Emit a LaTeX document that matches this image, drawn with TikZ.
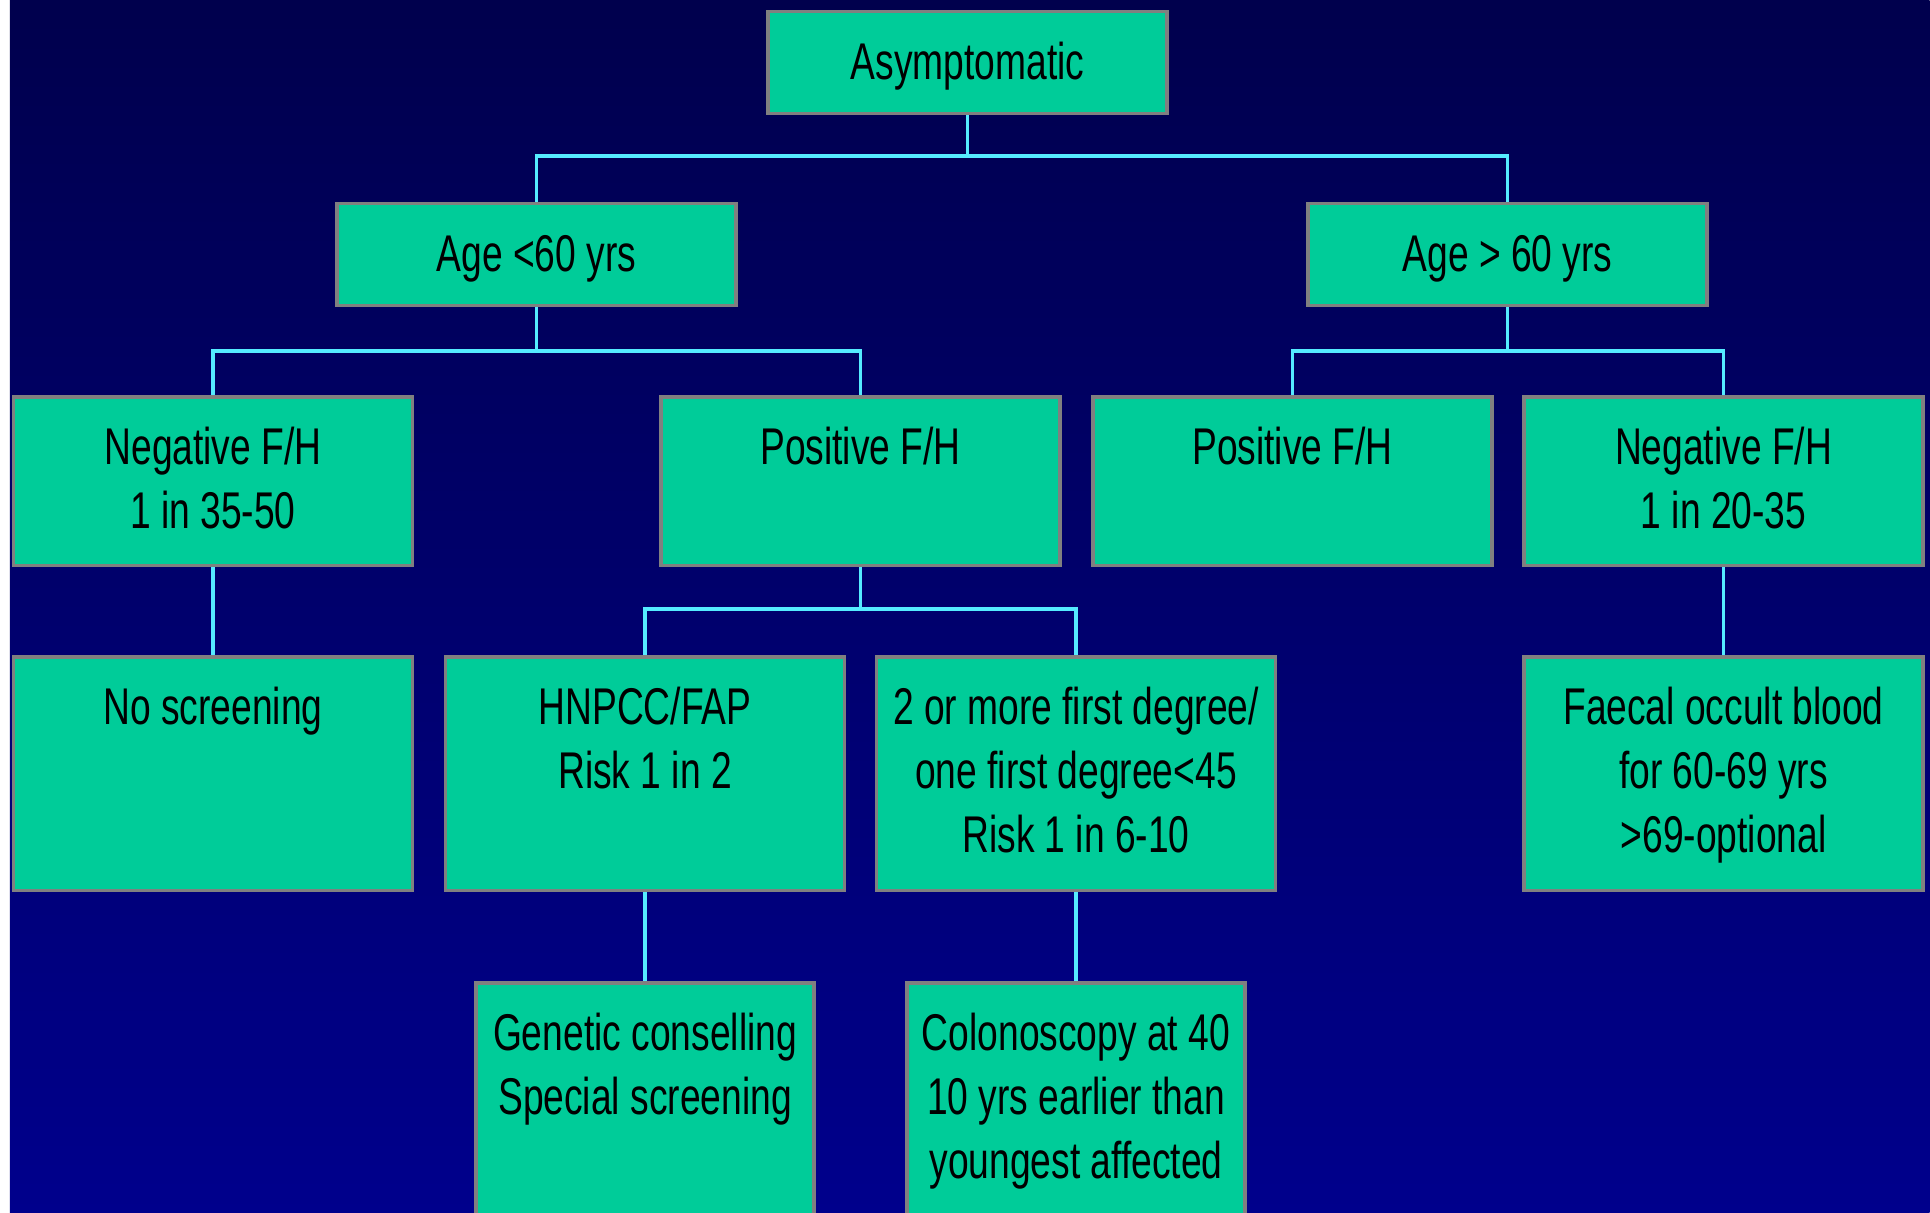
\documentclass[tikz,border=0pt]{standalone}
\usepackage{fontspec}
\setmainfont{Liberation Sans}[FakeStretch=0.72]

\definecolor{boxgreen}{RGB}{0,204,153}
\definecolor{boxedge}{RGB}{128,128,128}
\definecolor{linkcyan}{RGB}{85,235,255}
\definecolor{navytop}{RGB}{0,0,77}
\definecolor{navybottom}{RGB}{0,0,140}

% lines of a card, first baseline on top
\newcommand{\cardlines}[1]{\begin{tabular}[t]{@{}c@{}}#1\end{tabular}}

\tikzset{
  card/.style = {draw = boxedge, fill = boxgreen, line width = 0.07cm,
    anchor = north, minimum width = 7.98cm,
    inner xsep = 0pt, inner ysep = 0pt, text height = 1.36cm,
    font = \fontsize{29.4}{36.4}\selectfont},
  shortcard/.style = {card, text depth = 0.68cm},
  midcard/.style = {card, text depth = 2.02cm},
  tallcard/.style = {card, text depth = 3.32cm},
  lowcard/.style = {card, minimum width = 6.76cm, text depth = 3.9cm},
  link/.style = {draw = linkcyan, line width = 0.065cm}
}

\begin{document}
\begin{tikzpicture}[x = 0.02cm, y = -0.02cm]
		\useasboundingbox (0, 0) rectangle (1930, 1213);
		\clip (0, 0) rectangle (1930, 1213);
		\fill [white] (0, 0) rectangle (1930, 1213);
		\shade [top color = navytop, bottom color = navybottom] (0.2cm, 0cm) rectangle (38.6cm, -24.26cm);

		% first and second level
		\node [shortcard] (asym) at (967.5, 10) {Asymptomatic};
		\node [shortcard] (young) at (536.5, 202) {Age <60 yrs};
		\node [shortcard] (old) at (1507.5, 202) {Age > 60 yrs};

		% family history
		\node [midcard] (negyoung) at (213, 395) {\cardlines{Negative F/H\\1 in 35-50}};
		\node [midcard] (posyoung) at (860.5, 395) {Positive F/H};
		\node [midcard] (posold) at (1292.5, 395) {Positive F/H};
		\node [midcard] (negold) at (1723.5, 395) {\cardlines{Negative F/H\\1 in 20-35}};

		% risk groups
		\node [tallcard] (noscreen) at (213, 655) {No screening};
		\node [tallcard] (hnpcc) at (645, 655) {\cardlines{HNPCC/FAP\\Risk 1 in 2}};
		\node [tallcard] (firstdeg) at (1076, 655) {\cardlines{2 or more first degree/\\one first degree<45\\Risk 1 in 6-10}};
		\node [tallcard] (faecal) at (1723.5, 655) {\cardlines{Faecal occult blood\\for 60-69 yrs\\>69-optional}};

		% follow up
		\node [lowcard] (genetic) at (645, 981) {\cardlines{Genetic conselling\\Special screening}};
		\node [lowcard] (colono) at (1076, 981) {\cardlines{Colonoscopy at 40\\10 yrs earlier than\\youngest affected}};

		\coordinate (split1) at (967.5, 156);
		\coordinate (split2) at (536.5, 351);
		\coordinate (split3) at (1507.5, 351);
		\coordinate (split4) at (860.5, 609);

		\draw [link] (asym.south) -- (split1);
		\draw [link] (young.north) |- (split1) -| (old.north);
		\draw [link] (young.south) -- (split2);
		\draw [link] (negyoung.north) |- (split2) -| (posyoung.north);
		\draw [link] (old.south) -- (split3);
		\draw [link] (posold.north) |- (split3) -| (negold.north);
		\draw [link] (posyoung.south) -- (split4);
		\draw [link] (hnpcc.north) |- (split4) -| (firstdeg.north);
		\draw [link] (negyoung.south) -- (noscreen.north);
		\draw [link] (negold.south) -- (faecal.north);
		\draw [link] (hnpcc.south) -- (genetic.north);
		\draw [link] (firstdeg.south) -- (colono.north);
	\end{tikzpicture}
\end{document}
